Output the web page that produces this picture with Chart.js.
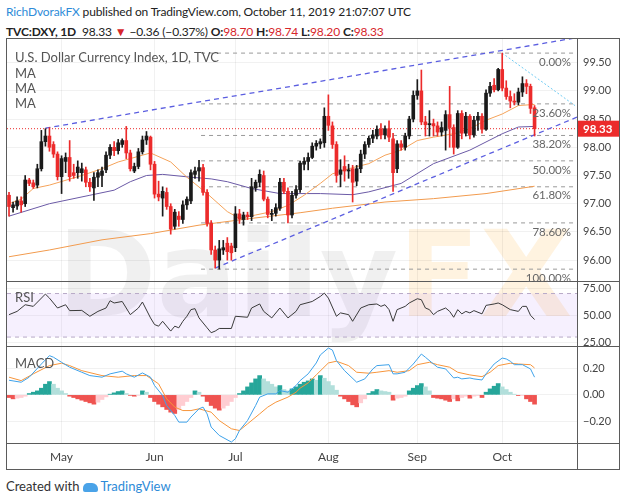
<!DOCTYPE html>
<html>
<head>
<meta charset="utf-8">
<script src="https://cdn.jsdelivr.net/npm/chart.js@4.4.1/dist/chart.umd.min.js"></script>
<style>
  body { margin: 0; width: 624px; height: 503px; overflow: hidden; background: #fff; position: relative; font-family: Lato, "Noto Sans", sans-serif; color: #222; }
  .hdr { position: absolute; left: 6px; font-size: 12px; white-space: nowrap; letter-spacing: -0.15px; }
  #h1 { top: 4px; }
  #h2 { top: 24px; }
  .blue { color: #2e8bd8; }
  .red { color: #d7262b; }
  #frame { position: absolute; left: 6px; top: 38px; width: 612px; height: 430px; border: 1px solid #5b5b5b; overflow: hidden; }
  #wm { position: absolute; left: 50px; top: 166px; font: bold 120px "DejaVu Sans", sans-serif; color: rgba(0,0,0,0.06); white-space: nowrap; }
  #wm span { color: rgba(255,160,0,0.12); }
  canvas { position: absolute; left: 0; top: 0; }
  .lbl { position: absolute; left: 8px; font-size: 13px; color: #555; white-space: nowrap; }
  #foot { position: absolute; left: 6px; top: 478px; font-size: 13px; color: #333; white-space: nowrap; }
  #logo { display: inline-block; width: 15px; height: 9px; background: #4aa3e8; border-radius: 5px 6px 2px 2px; margin: 0 2px 0 4px; vertical-align: -1px; }
</style>
</head>
<body>
<div class="hdr" id="h1"><span class="blue">RichDvorakFX</span> published on TradingView.com, October 11, 2019 21:07:07 UTC</div>
<div class="hdr" id="h2"><b>TVC:DXY, 1D</b>&nbsp; 98.33 <span class="red">▼</span> −0.36 (−0.37%) <b>O:</b><span class="red">98.70</span> <b>H:</b><span class="red">98.74</span> <b>L:</b><span class="red">98.20</span> <b>C:</b><span class="red">98.33</span></div>
<div id="frame">
  <div id="wm">Daily<span>FX</span></div>
  <canvas id="chart" width="612" height="430"></canvas>
  <div class="lbl" style="top:10px">U.S. Dollar Currency Index, 1D, TVC</div>
  <div class="lbl" style="top:26px">MA</div>
  <div class="lbl" style="top:41px">MA</div>
  <div class="lbl" style="top:56px">MA</div>
  <div class="lbl" style="top:250px">RSI</div>
  <div class="lbl" style="top:316px">MACD</div>
</div>
<div id="foot">Created with<span id="logo"></span><span class="blue">TradingView</span></div>

<script>
// daily bars, Apr 12 2019 .. Oct 11 2019 (index 0..130)
const opens = [97.15,96.93,96.96,97.05,97.00,97.42,97.37,97.33,97.62,98.10,98.20,98.05,97.88,97.48,97.75,97.82,97.55,97.55,97.55,97.60,
  97.38,97.28,97.47,97.50,97.60,97.86,98.00,97.94,98.05,98.12,97.90,97.58,97.66,97.92,98.13,98.18,97.70,97.17,97.10,97.20,
  96.95,96.60,96.78,96.72,96.98,97.05,97.52,97.58,97.64,97.20,96.65,96.18,96.00,96.18,96.30,96.25,96.22,96.82,96.72,96.80,
  96.77,97.28,97.38,97.50,97.08,96.81,96.83,96.92,97.38,97.22,96.80,97.15,97.25,97.70,97.75,97.82,98.02,98.06,98.08,98.55,
  98.38,98.05,97.52,97.66,97.58,97.62,97.40,97.62,97.88,98.05,98.16,98.20,98.32,98.22,98.33,98.15,97.62,98.06,98.00,98.20,
  98.50,98.92,99.00,98.45,98.40,98.42,98.38,98.27,98.30,98.58,98.35,98.00,98.60,98.25,98.55,98.22,98.48,98.55,98.32,98.96,
  99.10,99.02,99.38,99.05,98.90,98.82,98.80,98.98,99.13,99.08,98.70];
const highs = [97.20,97.03,97.12,97.12,97.50,97.45,97.42,97.70,98.30,98.33,98.35,98.10,97.92,97.85,97.90,98.12,97.70,97.76,97.72,97.65,
  97.45,97.55,97.60,97.65,97.92,98.05,98.10,98.14,98.15,98.37,97.95,97.72,97.98,98.20,98.28,98.20,97.75,97.40,97.30,97.28,
  97.00,96.90,96.86,97.05,97.12,97.60,97.65,97.77,97.70,97.25,96.70,96.25,96.35,96.35,96.40,96.30,96.95,96.90,96.85,96.85,
  97.45,97.42,97.60,97.58,97.12,96.90,97.00,97.45,97.45,97.28,97.22,97.32,97.75,97.82,97.90,98.08,98.12,98.15,98.70,98.93,
  98.45,98.10,97.78,97.85,97.70,97.68,97.68,97.95,98.10,98.20,98.30,98.38,98.42,98.38,98.47,98.25,98.12,98.12,98.25,98.55,
  99.00,99.20,99.37,98.55,98.65,98.50,98.45,98.45,98.65,99.08,98.40,98.65,98.65,98.62,98.58,98.55,98.62,98.60,99.02,99.15,
  99.22,99.40,99.67,99.18,99.00,98.95,99.05,99.25,99.20,99.12,98.74];
const lows = [96.78,96.85,96.90,96.85,96.95,97.32,97.27,97.28,97.58,98.02,97.93,97.82,97.42,97.18,97.55,97.40,97.45,97.45,97.40,97.30,
  97.22,97.06,97.30,97.30,97.55,97.80,97.85,97.88,98.00,97.80,97.58,97.55,97.62,97.88,98.05,97.60,97.10,97.05,96.78,96.90,
  96.46,96.55,96.60,96.65,96.90,97.00,97.45,97.40,97.15,96.60,96.10,95.86,95.84,96.10,96.00,96.00,96.15,96.65,96.62,96.72,
  96.70,97.22,97.30,97.05,96.75,96.70,96.78,96.88,97.18,96.66,96.75,97.10,97.20,97.60,97.60,97.80,97.95,97.98,98.00,98.30,
  97.98,97.38,97.30,97.40,97.45,97.03,97.32,97.55,97.80,98.00,98.08,98.15,98.15,98.15,98.10,97.22,97.55,97.95,97.95,98.15,
  98.45,98.85,98.40,98.20,98.20,98.20,98.20,98.20,97.95,98.00,97.88,97.98,98.15,98.20,98.15,98.18,98.30,98.25,98.30,98.90,
  98.98,99.00,99.00,98.85,98.70,98.75,98.75,98.90,98.95,98.60,98.20];
const closes = [96.95,96.98,97.05,96.98,97.42,97.36,97.30,97.62,98.10,98.20,98.00,97.88,97.48,97.80,97.82,97.48,97.50,97.65,97.62,97.38,
  97.30,97.47,97.55,97.58,97.86,98.00,97.94,98.08,98.12,97.90,97.62,97.66,97.92,98.13,98.20,97.70,97.17,97.12,97.22,96.95,
  96.55,96.85,96.72,96.98,97.08,97.55,97.58,97.64,97.20,96.65,96.18,96.00,96.20,96.22,96.15,96.13,96.82,96.73,96.80,96.77,
  97.30,97.38,97.52,97.08,96.81,96.83,96.93,97.38,97.22,96.80,97.15,97.25,97.72,97.75,97.82,98.02,98.07,98.10,98.55,98.39,
  98.05,97.50,97.60,97.58,97.60,97.38,97.62,97.88,98.05,98.16,98.22,98.32,98.22,98.33,98.18,97.55,98.06,98.00,98.20,98.50,
  98.92,99.00,98.45,98.40,98.42,98.38,98.27,98.35,98.58,98.35,98.00,98.60,98.25,98.55,98.22,98.48,98.55,98.32,98.96,99.08,
  99.02,99.38,99.05,98.90,98.82,98.80,98.98,99.13,99.08,98.69,98.33];

// moving averages: [bar index, value]
const ma20 = [[0,97.0],[3,97.08],[6,97.27],[10,97.33],[18,97.5],[23,97.62],[27,97.74],[35,97.9],[40,97.74],[44,97.47],[49,97.18],
  [54,96.86],[57,96.74],[61,96.8],[65,96.86],[69,96.97],[73,97.15],[77,97.36],[80,97.53],[85,97.64],[89,97.71],[93,97.86],
  [97,97.95],[101,98.12],[105,98.18],[110,98.24],[114,98.33],[118,98.48],[122,98.59],[126,98.74],[130,98.76]];
const ma50 = [[0,96.78],[10,97.0],[20,97.15],[26,97.24],[30,97.39],[34,97.5],[38,97.52],[45,97.47],[50,97.44],[54,97.39],
  [60,97.27],[67,97.18],[77,97.18],[85,97.16],[89,97.21],[97,97.36],[105,97.71],[114,97.95],[122,98.24],[126,98.36],[130,98.37]];
const ma200 = [[0,96.06],[10,96.18],[23,96.36],[35,96.47],[47,96.62],[60,96.74],[72,96.84],[80,96.92],[93,97.03],[105,97.09],
  [118,97.18],[130,97.31]];

const rsi = [[0,50.6],[2,53.6],[4,59.7],[6,58.2],[9,69.5],[10,65.8],[12,56.7],[14,59.7],[15,54.3],[18,54.5],[20,49.1],[22,53.6],
  [24,56.7],[25,63.4],[26,61.3],[28,62.7],[30,50.6],[32,56.7],[33,62.2],[35,47.6],[36,41.5],[37,40],[38,44.5],[40,35.5],[41,40],
  [42,38.5],[43,44.5],[44,49.1],[45,55.2],[46,56.1],[47,47.6],[49,38.5],[50,34],[51,35.5],[52,37.9],[55,37.9],[56,49.1],[59,48.2],
  [60,56.7],[62,60.4],[63,53.6],[65,47.6],[67,56.7],[69,47.6],[71,53.6],[72,59.7],[75,62.7],[77,67.3],[78,70.4],[79,65.8],[81,49.1],
  [82,52.2],[84,50.6],[85,44.5],[87,56.7],[89,59.7],[91,60.4],[92,58.2],[93,59.7],[94,55.2],[95,44.5],[96,55.2],[98,58.2],[99,61.3],
  [101,65.2],[102,64.3],[103,56.7],[104,55.2],[105,50.6],[106,53.6],[108,56.7],[109,53.6],[110,48.2],[111,55.2],[112,51.3],[113,53.6],
  [114,52.2],[115,54.3],[117,51.3],[118,59.1],[120,60.4],[121,61.3],[122,59.7],[124,55.2],[126,53.6],[127,58.2],[128,58.2],[129,50],[130,46.1]];

const macd = [[0,0.11],[3,0.095],[5,0.133],[8,0.232],[10,0.295],[11,0.283],[13,0.245],[15,0.208],[18,0.17],[20,0.145],[23,0.133],
  [25,0.158],[28,0.178],[29,0.158],[31,0.133],[33,0.165],[35,0.133],[36,0.07],[38,-0.005],[39,-0.08],[41,-0.155],[42,-0.205],[44,-0.205],
  [45,-0.167],[47,-0.105],[48,-0.092],[49,-0.143],[50,-0.242],[52,-0.305],[55,-0.355],[56,-0.33],[57,-0.268],[59,-0.193],[61,-0.08],
  [62,-0.017],[64,0.0075],[66,0.0075],[67,0.032],[69,0.02],[71,0.07],[72,0.107],[74,0.158],[76,0.24],[77,0.3],[79,0.352],[80,0.337],
  [81,0.257],[83,0.182],[86,0.095],[88,0.12],[90,0.195],[91,0.22],[94,0.227],[95,0.158],[96,0.158],[98,0.17],[100,0.232],[102,0.307],
  [103,0.283],[105,0.232],[106,0.208],[108,0.195],[110,0.127],[111,0.133],[112,0.12],[114,0.127],[115,0.12],[117,0.112],[118,0.158],
  [120,0.232],[122,0.277],[123,0.27],[124,0.253],[125,0.227],[127,0.227],[129,0.195],[130,0.133]];
const signal = [[0,0.133],[3,0.107],[6,0.158],[10,0.22],[13,0.238],[15,0.22],[18,0.182],[23,0.145],[27,0.133],[31,0.145],[34,0.145],
  [37,0.083],[39,-0.03],[41,-0.092],[43,-0.118],[45,-0.118],[47,-0.105],[50,-0.13],[52,-0.193],[55,-0.255],[57,-0.268],[59,-0.218],
  [62,-0.143],[64,-0.092],[66,-0.055],[69,-0.017],[71,0.02],[72,0.05],[74,0.09],[76,0.15],[79,0.24],[81,0.253],[84,0.22],[86,0.17],
  [89,0.163],[91,0.17],[94,0.182],[96,0.17],[99,0.182],[101,0.227],[104,0.245],[106,0.227],[109,0.208],[111,0.17],[114,0.15],
  [117,0.137],[119,0.17],[121,0.22],[124,0.238],[126,0.232],[129,0.227],[130,0.202]];
const hist = [-0.02,-0.03,-0.025,-0.02,-0.01,0.01,0.02,0.03,0.05,0.08,0.10,0.08,0.05,0.03,0.01,-0.01,-0.02,-0.03,-0.04,-0.05,
  -0.06,-0.07,-0.055,-0.035,-0.015,0.005,0.015,0.025,0.03,0.01,-0.003,-0.01,-0.003,0.03,0.02,-0.02,-0.05,-0.07,-0.09,-0.11,
  -0.13,-0.14,-0.11,-0.08,-0.05,-0.02,0.03,0.02,-0.01,-0.05,-0.08,-0.10,-0.115,-0.10,-0.08,-0.05,-0.02,0.01,0.03,0.06,
  0.09,0.12,0.145,0.12,0.10,0.08,0.06,0.07,0.04,0.03,0.045,0.06,0.08,0.095,0.105,0.12,0.11,0.145,0.125,0.10,
  0.07,0.035,-0.01,-0.03,-0.05,-0.075,-0.09,-0.06,-0.03,0.01,0.025,0.04,0.03,0.025,0.02,-0.04,-0.025,-0.02,-0.01,0.03,
  0.05,0.07,0.085,0.06,0.03,-0.02,-0.025,-0.03,-0.04,-0.05,-0.03,-0.045,-0.02,-0.01,-0.025,-0.01,-0.005,-0.02,0.02,0.045,
  0.065,0.085,0.06,0.04,0.02,0.005,-0.005,-0.005,-0.03,-0.05,-0.07];

// drawings
const fibLevels = [99.67, 98.77, 98.21, 97.76, 97.30, 96.66, 95.84];
const fibLabels = ['0.00%', '23.60%', '38.20%', '50.00%', '61.80%', '78.60%', '100.00%'];
const fibStart = 47.5;
const upperChannel = [[9, 98.34], [141, 99.95]];
const lowerChannel = [[51, 95.86], [141, 98.55]];
const retraceLine = [[122, 99.67], [140, 98.74]];
const lastClose = 98.33;

// axes
const monthTicks = [13, 36, 56, 79, 101, 122];
const monthLabels = ['May', 'Jun', 'Jul', 'Aug', 'Sep', 'Oct'];
const priceTicks = [96.0, 96.5, 97.0, 97.5, 98.0, 98.5, 99.0, 99.5];
const rsiTicks = [25, 50, 75];
const macdTicks = [-0.2, 0, 0.2];

const UP = '#1a1a1a', DOWN = '#ec2b2b';
const candleColors = closes.map((c, i) => c >= opens[i] ? UP : DOWN);
const histColors = hist.map((v, i) => {
  const prev = i > 0 ? hist[i - 1] : 0;
  if (v >= 0) return v >= prev ? '#26a69a' : '#b2dfdb';
  return v < prev ? '#ef5350' : '#ffcdd2';
});

const pts = arr => arr.map(p => ({ x: p[0], y: p[1] }));
const line = (data, color, axis, extra) => Object.assign({
  type: 'line', data: pts(data), borderColor: color, borderWidth: 1, pointRadius: 0,
  tension: 0, yAxisID: axis, order: 3
}, extra || {});

const datasets = [
  { type: 'bar', data: opens.map((o, i) => ({ x: i, y: [Math.min(o, closes[i]), Math.max(o, closes[i])] })),
    backgroundColor: candleColors, barThickness: 3, minBarLength: 1, grouped: false, yAxisID: 'y', order: 0 },
  { type: 'bar', data: lows.map((l, i) => ({ x: i, y: [l, highs[i]] })),
    backgroundColor: candleColors, barThickness: 1, grouped: false, yAxisID: 'y', order: 1 },
  line(ma20, '#f5a35a', 'y'),
  line(ma50, '#6b5aa6', 'y'),
  line(ma200, '#f29b4e', 'y'),
  line([[-0.5, lastClose], [140.5, lastClose]], '#ec2b2b', 'y', { borderDash: [1, 2], order: 4 }),
  line(upperChannel, '#5b5ee0', 'y', { borderDash: [5, 4], borderWidth: 1.3, order: 2 }),
  line(lowerChannel, '#5b5ee0', 'y', { borderDash: [5, 4], borderWidth: 1.3, order: 2 }),
  line(retraceLine, '#6fcbf3', 'y', { borderDash: [2, 2], order: 2 }),
  line(rsi, '#3a3a3a', 'rsi'),
  { type: 'bar', data: hist.map((v, i) => ({ x: i, y: v })), backgroundColor: histColors,
    barThickness: 4, grouped: false, yAxisID: 'macd', order: 5 },
  line(macd, '#3ea2ea', 'macd', { order: 2 }),
  line(signal, '#f7953b', 'macd', { order: 2 })
];
fibLevels.forEach(lv => datasets.push(line([[fibStart, lv], [140.5, lv]], '#9a9a9a', 'y', { borderDash: [4, 4], order: 6 })));

const GRID = 'rgba(0,0,0,0.055)';
const AXIS = '#5b5b5b';
const tickFont = { family: 'Lato, "Noto Sans", sans-serif', size: 11 };

// scale label overflow padding would shrink the plot area; TradingView panes run edge to edge
function noPad(s) {
  s.paddingLeft = 0; s.paddingRight = 0; s.paddingTop = 0; s.paddingBottom = 0;
}

function yAxis(weight, min, max, tickList, fmt) {
  return {
    type: 'linear', position: 'right', stack: 'pane', stackWeight: weight, min: min, max: max,
    afterBuildTicks: s => { s.ticks = tickList.map(v => ({ value: v })); },
    afterFit: s => { s.width = 42; noPad(s); },
    ticks: { callback: fmt, padding: 6, color: '#444', font: tickFont },
    grid: { color: GRID, drawTicks: false },
    border: { color: AXIS }
  };
}

const decor = {
  id: 'decor',
  beforeDatasetsDraw(chart) {
    const { ctx, chartArea, scales } = chart;
    const r = scales.rsi;
    const y70 = r.getPixelForValue(70), y30 = r.getPixelForValue(30);
    ctx.save();
    ctx.fillStyle = 'rgba(150, 90, 240, 0.09)';
    ctx.fillRect(chartArea.left, y70, chartArea.right - chartArea.left, y30 - y70);
    ctx.strokeStyle = '#b8aac8';
    ctx.setLineDash([4, 4]);
    ctx.lineWidth = 1;
    [y70, y30].forEach(y => {
      ctx.beginPath(); ctx.moveTo(chartArea.left, y); ctx.lineTo(chartArea.right, y); ctx.stroke();
    });
    ctx.restore();
  },
  afterDraw(chart) {
    const { ctx, chartArea, scales, width, height } = chart;
    const y = scales.y;
    ctx.save();
    // pane separators
    ctx.strokeStyle = AXIS;
    ctx.lineWidth = 1;
    [scales.rsi.top, scales.macd.top, scales.x.top].forEach(py => {
      const yy = Math.round(py) + 0.5;
      ctx.beginPath(); ctx.moveTo(0, yy); ctx.lineTo(width, yy); ctx.stroke();
    });
    const ax = Math.round(y.left) + 0.5;
    ctx.beginPath(); ctx.moveTo(ax, 0); ctx.lineTo(ax, height); ctx.stroke();
    // fib labels
    ctx.fillStyle = '#666';
    ctx.font = '11.5px Lato, "Noto Sans", sans-serif';
    ctx.textAlign = 'right';
    ctx.textBaseline = 'middle';
    fibLevels.forEach((lv, i) => {
      ctx.fillText(fibLabels[i], chartArea.right - 6, y.getPixelForValue(lv) + 9);
    });
    // last price badge
    const py = y.getPixelForValue(lastClose);
    ctx.fillStyle = '#ec2b2b';
    ctx.fillRect(y.left + 1, py - 8, y.right - y.left, 16);
    ctx.fillStyle = '#fff';
    ctx.textAlign = 'left';
    ctx.font = 'bold 11.5px Lato, "Noto Sans", sans-serif';
    ctx.fillText(lastClose.toFixed(2), y.left + 6, py + 0.5);
    ctx.restore();
  }
};

new Chart(document.getElementById('chart'), {
  type: 'bar',
  data: { datasets: datasets },
  options: {
    responsive: false,
    animation: false,
    layout: { padding: 0, autoPadding: false },
    plugins: { legend: { display: false }, tooltip: { enabled: false } },
    scales: {
      x: {
        type: 'linear', min: -0.5, max: 140.5, offset: false,
        afterBuildTicks: s => { s.ticks = monthTicks.map(v => ({ value: v })); },
        afterFit: s => { s.height = 26; noPad(s); },
        ticks: { callback: v => monthLabels[monthTicks.indexOf(v)], padding: 7, color: '#444', maxRotation: 0, font: { family: tickFont.family, size: 12 } },
        grid: { color: GRID, drawTicks: false, offset: false },
        border: { color: AXIS }
      },
      y: yAxis(242, 95.63, 99.92, priceTicks, v => v.toFixed(2)),
      rsi: yAxis(65, 21.8, 81.5, rsiTicks, v => v.toFixed(2)),
      macd: yAxis(97, -0.362, 0.3675, macdTicks, v => (v < 0 ? '\u2212' : '') + Math.abs(v).toFixed(2))
    }
  },
  plugins: [decor]
});
</script>
</body>
</html>
